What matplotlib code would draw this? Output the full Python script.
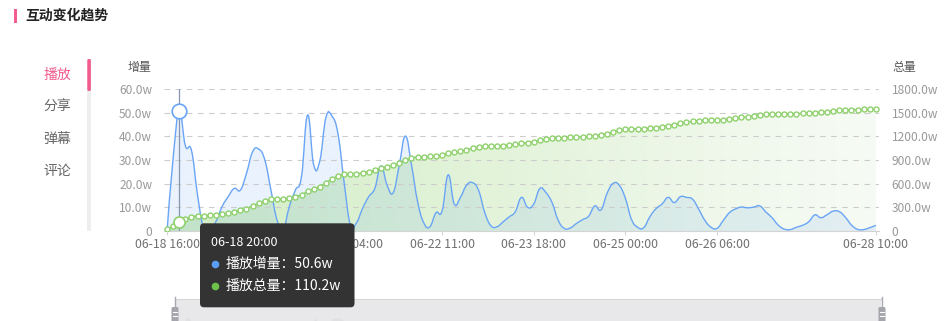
import numpy as np
import matplotlib
matplotlib.use("Agg")
import matplotlib.pyplot as plt
from matplotlib.path import Path
from matplotlib.patches import PathPatch, Polygon, Rectangle, FancyBboxPatch

plt.rcParams['font.family'] = ['Noto Sans CJK SC', 'DejaVu Sans']

# 播放增量 (w), one value per time slot
play_inc = [0, 31, 50.6, 36, 34, 15, 1, 0.5, 4, 10.3,
            14.5, 18, 17.3, 24.4, 33.5, 34.6, 30, 17.3, 4.6, 0.5,
            10.3, 17.3, 23, 49, 27.9, 29.7, 48, 48.5, 40.6, 20,
            2.5, 3.5, 9.6, 14.5, 18, 27.5, 19.4, 16.2, 27.9, 40.1,
            27.9, 12.4, 3.5, 1.8, 7.7, 8.4, 23.7, 11.4, 14.2, 19.3,
            20.4, 17, 7.7, 2.2, 1.8, 3.9, 6, 8.2, 14.2, 10,
            11.4, 17.9, 16.2, 12, 4.6, 1.1, 1.3, 3.2, 4.8, 6.3,
            10.6, 8.9, 15.9, 20.1, 19.3, 13.8, 4.9, 1.6, 1.4, 6,
            9.4, 11.4, 14.2, 12, 14.5, 14.2, 13.4, 9.2, 4.5, 1.6,
            1.1, 4.4, 7.7, 9.3, 10.1, 9.8, 10.1, 10.6, 8, 5.6,
            2.5, 0.8, 0.6, 1.6, 2.4, 3.9, 6.8, 5.6, 6.9, 8.4,
            8.2, 5.8, 2.5, 0.7, 0.6, 1.4, 2.4]

# 播放总量 (w)
play_total = [28.6, 59.6, 110.2, 146.2, 180.2, 195.2, 196.2, 196.7, 200.7, 211.0,
              225.5, 243.5, 260.8, 285.2, 318.7, 353.3, 383.3, 400.6, 405.2, 405.7,
              416.0, 433.3, 456.3, 505.3, 533.2, 562.9, 610.9, 659.4, 700.0, 720.0,
              722.5, 726.0, 735.6, 750.1, 768.1, 795.6, 815.0, 831.2, 859.1, 899.2,
              927.1, 939.5, 943.0, 944.8, 952.5, 960.9, 984.6, 996.0, 1010.2, 1029.5,
              1049.9, 1066.9, 1074.6, 1076.8, 1078.6, 1082.5, 1088.5, 1096.7, 1110.9, 1120.9,
              1132.3, 1150.2, 1166.4, 1178.4, 1183.0, 1184.1, 1185.4, 1188.6, 1193.4, 1199.7,
              1210.3, 1219.2, 1235.1, 1255.2, 1274.5, 1288.3, 1293.2, 1294.8, 1296.2, 1302.2,
              1311.6, 1323.0, 1337.2, 1349.2, 1363.7, 1377.9, 1391.3, 1400.5, 1405.0, 1406.6,
              1407.7, 1412.1, 1419.8, 1429.1, 1439.2, 1449.0, 1459.1, 1469.7, 1477.7, 1483.3,
              1485.8, 1486.6, 1487.2, 1488.8, 1491.2, 1495.1, 1501.9, 1507.5, 1514.4, 1522.8,
              1531.0, 1536.8, 1539.3, 1540.0, 1540.6, 1542.0, 1544.4]

tick_pos = [0, 15, 30, 45, 60, 75, 90, 116]
tick_labels = ['06-18 16:00', '06-19 22:00', '06-21 04:00', '06-22 11:00',
               '06-23 18:00', '06-25 00:00', '06-26 06:00', '06-28 10:00']
hidden_label = 1   # sits fully under the tooltip in the screenshot

left_ticks = [0, 10, 20, 30, 40, 50, 60]
right_ticks = [0, 300, 600, 900, 1200, 1500, 1800]

menu_items = ['播放', '分享', '弹幕', '评论']

hover_idx = 2
hover_time = '06-18 20:00'

PINK = '#f25d8e'
BLUE = '#6aa5f5'
GREEN = '#8fd16c'

W, H = 949, 321


def smooth_verts(xs, ys, t=0.22):
    verts = [(xs[0], ys[0])]
    codes = [Path.MOVETO]
    n = len(xs)
    for i in range(n - 1):
        a = i - 1 if i > 0 else i
        b = i + 2 if i + 2 < n else i + 1
        c1 = (xs[i] + (xs[i + 1] - xs[a]) * t, ys[i] + (ys[i + 1] - ys[a]) * t)
        c2 = (xs[i + 1] - (xs[b] - xs[i]) * t, ys[i + 1] - (ys[b] - ys[i]) * t)
        verts += [c1, c2, (xs[i + 1], ys[i + 1])]
        codes += [Path.CURVE4] * 3
    return verts, codes


fig = plt.figure(figsize=(W / 100, H / 100), dpi=100)
ax = fig.add_axes([164 / W, 90 / H, 715 / W, 142 / H])
ax2 = ax.twinx()

x = np.arange(len(play_inc))
n = len(x)

# green gradient area (right axis)
ax.set_xlim(-0.5, n - 0.5)
ax.set_ylim(0, 60)
ax2.set_ylim(0, 1800)
poly = Polygon([(0, 0)] + list(zip(x, play_total)) + [(n - 1, 0)],
               closed=True, transform=ax2.transData)
grad = np.zeros((1, 256, 3))
c_left = np.array([210, 237, 196]) / 255
c_right = np.array([247, 251, 245]) / 255
for k in range(3):
    grad[0, :, k] = np.linspace(c_left[k], c_right[k], 256)
im = ax.imshow(grad, extent=(0, n - 1, 0, 60), aspect='auto', zorder=0,
               interpolation='bilinear')
im.set_clip_path(poly)

# blue smooth area + line
v, c = smooth_verts(x, play_inc)
fill_path = Path(v + [(x[-1], 0), (x[0], 0), (x[0], 0)],
                 c + [Path.LINETO, Path.LINETO, Path.CLOSEPOLY])
ax.add_patch(PathPatch(fill_path, facecolor=(91 / 255, 156 / 255, 240 / 255, 0.13),
                       edgecolor='none', zorder=1))
ax.add_patch(PathPatch(Path(v, c), facecolor='none', edgecolor=BLUE, lw=1.0, zorder=2))

# cursor
ax.plot([hover_idx, hover_idx], [0, 60], color='#8796b0', lw=0.9, zorder=2.2)
ax.plot([hover_idx], [play_inc[hover_idx]], 'o', ms=10.5, mfc='white', mec=BLUE,
        mew=1.2, zorder=3)

# green line with hollow markers
ax2.plot(x, play_total, color=GREEN, lw=1.0, marker='o', ms=3.6, mfc='white',
         mec=GREEN, mew=1.0, zorder=3)
ax2.plot([hover_idx], [play_total[hover_idx]], 'o', ms=8, mfc='white', mec=GREEN,
         mew=1.2, zorder=4)

# axes styling
ax.set_axisbelow('line')
ax.set_yticks(left_ticks)
ax.set_yticklabels(['0'] + [f'{t:.1f}w' for t in left_ticks[1:]])
ax.yaxis.grid(True, color='#cccccc', lw=0.8, linestyle=(0, (5, 5)))
ax.set_xticks(tick_pos)
ax.set_xticklabels(tick_labels)
ax.get_xticklabels()[hidden_label].set_visible(False)
ax.tick_params(axis='y', length=0, pad=8.5, labelsize=8.6, labelcolor='#999999')
ax.tick_params(axis='x', length=3, width=0.8, color='#d4d4d4', pad=2,
               labelsize=8.8, labelcolor='#707070')
for s in ['top', 'left', 'right']:
    ax.spines[s].set_visible(False)
    ax2.spines[s].set_visible(False)
ax.spines['bottom'].set_color('#d4d4d4')
ax2.spines['bottom'].set_visible(False)
ax2.set_yticks(right_ticks)
ax2.set_yticklabels(['0'] + [f'{t:.1f}w' for t in right_ticks[1:]])
ax2.tick_params(axis='y', length=0, pad=9, labelsize=8.6, labelcolor='#999999')
ax.set_xlim(-0.5, n - 0.5)
ax.set_ylim(0, 60)
ax2.set_ylim(0, 1800)

# data zoom slider
sl = fig.add_axes([175 / W, (H - 339) / H, 706 / W, 40 / H])
sl.set_facecolor('#e8e8ea')
sl.fill_between(x, play_inc, color='#e0e0e2', lw=0)
sl.set_xlim(0, n - 1)
sl.set_ylim(0, max(play_inc) / 0.55)
sl.set_xticks([])
sl.set_yticks([])
for s in ['left', 'right', 'bottom']:
    sl.spines[s].set_visible(False)
sl.spines['top'].set_color('#d6d6d6')

# overlay for page decorations and tooltip
ov = fig.add_axes([0, 0, 1, 1])
ov.set_xlim(0, W)
ov.set_ylim(H, 0)
ov.axis('off')
ov.patch.set_alpha(0)

ov.add_patch(Rectangle((14.5, 9), 2.6, 14, color=PINK, lw=0))
ov.text(25, 16, '互动变化趋势', fontsize=10, fontweight='bold', color='#222222',
        va='center', ha='left')

for i, item in enumerate(menu_items):
    ov.text(57, 75 + 32 * i, item, fontsize=10, color=PINK if i == 0 else '#666666',
            ha='center', va='center')
ov.add_patch(Rectangle((87.3, 59), 3.6, 172, color='#eeeeee', lw=0))
ov.add_patch(FancyBboxPatch((87.3, 59), 3.6, 32, boxstyle='round,pad=0,rounding_size=1.5',
                            color=PINK, lw=0))

ov.text(139, 67, '增量', fontsize=8.6, color='#555555', ha='center', va='center')
ov.text(904, 67, '总量', fontsize=8.6, color='#555555', ha='center', va='center')

# slider handles
for hx in (175, 882):
    ov.plot([hx, hx], [297, 321], color='#a8a8b0', lw=1)
    ov.add_patch(FancyBboxPatch((hx - 3.5, 307), 7, 16, boxstyle='round,pad=0,rounding_size=1.5',
                                fc='#a4a4ac', ec='none'))
    ov.plot([hx - 2, hx + 2], [312, 312], color='white', lw=0.8)
    ov.plot([hx - 2, hx + 2], [315.5, 315.5], color='white', lw=0.8)

# tooltip
ov.add_patch(FancyBboxPatch((200, 223.3), 154.5, 84, boxstyle='round,pad=0,rounding_size=4',
                            fc='#333333', ec='none'))
ov.text(211.5, 243, hover_time, fontsize=9, color='white', ha='left', va='center')
ov.plot([215], [264.3], 'o', ms=4.5, color='#5b9cf5')
ov.text(226, 264, f'播放增量：{play_inc[hover_idx]}w', fontsize=10, color='white',
        ha='left', va='center')
ov.plot([215], [286], 'o', ms=4.5, color='#6cc24a')
ov.text(226, 286, f'播放总量：{play_total[hover_idx]}w', fontsize=10, color='white',
        ha='left', va='center')

fig.savefig('out.png', dpi=100)
